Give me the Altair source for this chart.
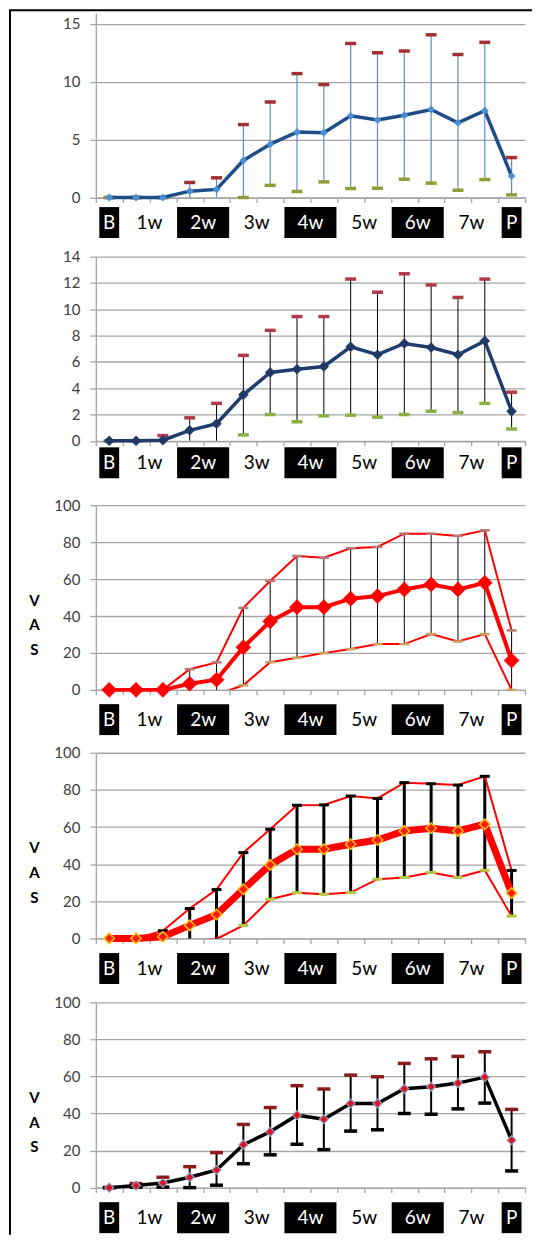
import altair as alt
import pandas as pd

# ---------------- data ----------------
visits = list(range(16))
labels = ["B", "1w", "2w", "3w", "4w", "5w", "6w", "7w", "P"]
label_first = [0, 1, 3, 5, 7, 9, 11, 13, 15]
label_last = [0, 2, 4, 6, 8, 10, 12, 14, 15]
label_dark = [True, False, True, False, True, False, True, False, True]

p1_mean = [0, 0, 0, 0.55, 0.7, 3.2, 4.6, 5.65, 5.6, 7.05, 6.7, 7.1, 7.6, 6.45, 7.5, 1.85]
p1_upper = [0, 0, 0, 1.3, 1.7, 6.3, 8.25, 10.7, 9.75, 13.3, 12.5, 12.65, 14.05, 12.35, 13.4, 3.45]
p1_lower = [0, 0, 0, -0.2, -0.3, 0, 1.05, 0.52, 1.35, 0.78, 0.8, 1.58, 1.24, 0.63, 1.55, 0.23]

p2_mean = [0, 0, 0.05, 0.8, 1.3, 3.5, 5.2, 5.45, 5.65, 7.15, 6.55, 7.4, 7.1, 6.55, 7.6, 2.25]
p2_upper = [0, 0, 0.4, 1.75, 2.85, 6.5, 8.4, 9.45, 9.45, 12.3, 11.3, 12.7, 11.85, 10.9, 12.3, 3.7]
p2_lower = [0, 0, -0.3, -0.15, -0.25, 0.45, 2.0, 1.45, 1.9, 1.95, 1.8, 2.0, 2.25, 2.15, 2.85, 0.9]

p3_mean = [0, 0, 0, 3.3, 5.5, 23.1, 37.1, 44.8, 44.8, 49.4, 50.8, 54.4, 57.1, 54.4, 58.0, 15.9]
p3_upper = [0, 0, 0, 11.2, 14.9, 44.4, 59.0, 72.5, 71.6, 76.7, 77.4, 84.6, 84.6, 83.4, 86.4, 32.2]
p3_lower = [0, 0, 0, -4.8, -2.5, 2.5, 15.0, 17.4, 19.9, 22.1, 24.8, 24.8, 30.2, 26.2, 30.2, 0]

p4_mean = [0, 0, 0.9, 7.0, 12.9, 26.5, 39.6, 48.0, 48.0, 50.7, 53.0, 57.9, 59.3, 57.9, 61.5, 24.4]
p4_upper = [0, 0, 4.1, 16.1, 26.3, 46.2, 58.8, 71.7, 71.9, 76.7, 75.4, 83.9, 83.3, 82.6, 87.3, 36.6]
p4_lower = [0, 0, -2.3, -1.5, -0.3, 7.0, 21.1, 24.6, 23.8, 24.7, 31.9, 32.8, 35.5, 32.8, 36.7, 12.0]

p5_mean = [0, 1.1, 2.5, 5.6, 9.5, 23.2, 30.1, 39.1, 36.9, 45.4, 45.4, 53.3, 54.4, 56.4, 59.6, 25.6]
p5_upper = [0, 2.2, 5.6, 11.3, 18.9, 34.1, 43.2, 55.0, 53.2, 60.7, 59.8, 67.0, 69.5, 70.8, 73.3, 42.2]
p5_lower = [0, 0.2, 0.3, 0, 1.3, 12.9, 17.7, 23.4, 20.5, 30.5, 31.2, 40.0, 39.6, 42.5, 45.6, 9.0]

# ---------------- styling ----------------
FONT = "Lato"
GRID = "#a6a6a6"
W = 430
XSCALE = alt.Scale(domain=[-0.5, 15.5], nice=False, zero=False)


def xenc():
    return alt.X(
        "i:Q",
        scale=XSCALE,
        axis=alt.Axis(
            values=[k - 0.5 for k in range(17)],
            labels=False,
            ticks=True,
            tickSize=5,
            tickColor=GRID,
            tickWidth=1.3,
            domainColor=GRID,
            domainWidth=1.3,
            grid=False,
            title=None,
        ),
    )


def yenc(field, domain, values, vas):
    kw = dict(
        values=values,
        grid=True,
        gridColor=GRID,
        gridWidth=1.3,
        domainColor=GRID,
        domainWidth=1.3,
        tickColor=GRID,
        tickWidth=1.3,
        tickSize=6,
        labelFont=FONT,
        labelFontSize=15,
        labelColor="#404040",
        labelPadding=10,
    )
    if vas:
        kw.update(
            title=["V", "A", "S"],
            titleAngle=0,
            titleX=-62,
            titleY=95,
            titleAlign="center",
            titleBaseline="middle",
            titleFont=FONT,
            titleFontSize=15,
            titleFontWeight="bold",
            titleColor="#000000",
            titleLineHeight=25,
        )
    else:
        kw["title"] = None
    return alt.Y(f"{field}:Q", scale=alt.Scale(domain=domain, nice=False, zero=False), axis=alt.Axis(**kw))


def panel(mean, upper, lower, domain, yvals, height, st, vas=False, extra=None):
    df = pd.DataFrame({"i": visits, "mean": mean, "upper": upper, "lower": lower})
    base = alt.Chart(df)
    Y = lambda f: yenc(f, domain, yvals, vas)
    layers = []
    layers.append(
        base.mark_rule(color=st["bar"], strokeWidth=st["barw"], clip=True).encode(
            x=xenc(), y=Y("lower"), y2="upper:Q"
        )
    )
    if st.get("band"):
        for f in ["upper", "lower"]:
            layers.append(
                base.mark_line(color="#ff0000", strokeWidth=2, clip=True).encode(x=xenc(), y=Y(f))
            )
    layers.append(
        base.mark_tick(orient="horizontal", color=st["ucap"], size=st["capw"], thickness=st["capt"], opacity=1).encode(
            x=xenc(), y=Y("upper")
        )
    )
    layers.append(
        base.transform_filter("datum.lower >= 0")
        .mark_tick(orient="horizontal", color=st["lcap"], size=st["capw"], thickness=st["capt"], opacity=1)
        .encode(x=xenc(), y=Y("lower"))
    )
    layers.append(base.mark_line(color=st["line"], strokeWidth=st["linew"]).encode(x=xenc(), y=Y("mean")))
    layers.append(
        base.mark_point(
            shape="diamond",
            filled=True,
            fill=st["pt"],
            stroke=st.get("ptstroke", st["pt"]),
            strokeWidth=st.get("ptsw", 0.5),
            size=st["ptsize"],
            opacity=1,
        ).encode(x=xenc(), y=Y("mean"))
    )
    if extra:
        layers.extend(extra)
    return alt.layer(*layers).properties(width=W, height=height)


def strip(height, top, box_h):
    rows = []
    for lab, f, l, d in zip(labels, label_first, label_last, label_dark):
        inset = 0.13 if f == l else 0.03
        rows.append({"label": lab, "x0": f - 0.5 + inset, "x1": l + 0.5 - inset, "xc": (f + l) / 2, "dark": d})
    df = pd.DataFrame(rows)
    boxes = (
        alt.Chart(df)
        .transform_filter("datum.dark")
        .mark_rect(color="black")
        .encode(
            x=alt.X("x0:Q", scale=XSCALE, axis=None),
            x2="x1:Q",
            y=alt.value(top),
            y2=alt.value(top + box_h),
        )
    )
    text = (
        alt.Chart(df)
        .mark_text(font=FONT, fontSize=19, baseline="middle", align="center")
        .encode(
            x=alt.X("xc:Q", scale=XSCALE, axis=None),
            y=alt.value(top + box_h / 2),
            text="label:N",
            color=alt.condition("datum.dark", alt.value("white"), alt.value("black")),
        )
    )
    return alt.layer(boxes, text).properties(width=W, height=height)


frame_df = pd.DataFrame({"k": [0]})
frame_v = alt.Chart(frame_df).mark_rule(color="black", strokeWidth=2).encode(
    x=alt.value(-86), y=alt.value(-3), y2=alt.value(1224)
)
frame_h = alt.Chart(frame_df).mark_rule(color="black", strokeWidth=2).encode(
    x=alt.value(-87), x2=alt.value(437), y=alt.value(-3)
)

s1 = dict(bar="#5b8fcc", barw=1.2, ucap="#a23030", lcap="#8e9d35", capw=11, capt=3.5,
          line="#1f4d87", linew=3.5, pt="#4a8fd6", ptsize=55)
s2 = dict(bar="#000000", barw=1, ucap="#b03a4a", lcap="#8fae45", capw=11, capt=3.5,
          line="#1f3c6e", linew=3.5, pt="#1f3864", ptsize=100)
s3 = dict(bar="#000000", barw=1, band=True, ucap="#b87878", lcap="#c8a060", capw=10, capt=2.5,
          line="#ff0000", linew=4, pt="#ff0000", ptsize=230)
s4 = dict(bar="#000000", barw=3, band=True, ucap="#000000", lcap="#b6c640", capw=10, capt=3,
          line="#ff0000", linew=7, pt="#ff1a1a", ptstroke="#ffc000", ptsw=1.5, ptsize=110)
s5 = dict(bar="#000000", barw=2, ucap="#8b1c1c", lcap="#000000", capw=13, capt=3.5,
          line="#000000", linew=3.5, pt="#e3101c", ptstroke="#8aa0c8", ptsw=1.2, ptsize=80)

vas_vals = [0, 20, 40, 60, 80, 100]
BOX = 31

charts = [
    panel(p1_mean, p1_upper, p1_lower, [0, 15.92], [0, 5, 10, 15], 184.7, s1, extra=[frame_v, frame_h]),
    strip(58.3, 9.3, BOX),
    panel(p2_mean, p2_upper, p2_lower, [0, 14], [0, 2, 4, 6, 8, 10, 12, 14], 184.5, s2),
    strip(63.2, 6, BOX),
    panel(p3_mean, p3_upper, p3_lower, [0, 100], vas_vals, 185, s3, vas=True),
    strip(62.3, 14.3, BOX),
    panel(p4_mean, p4_upper, p4_lower, [0, 100], vas_vals, 186, s4, vas=True),
    strip(64, 14.7, BOX),
    panel(p5_mean, p5_upper, p5_lower, [0, 100], vas_vals, 185.7, s5, vas=True),
    strip(50, 14.3, BOX),
]

chart = (
    alt.vconcat(*charts, spacing=0, bounds="flush")
    .configure_view(strokeWidth=0)
    .properties(padding=0, background="white")
)

chart.save("out.html", embed_options={"renderer": "svg", "actions": False})
